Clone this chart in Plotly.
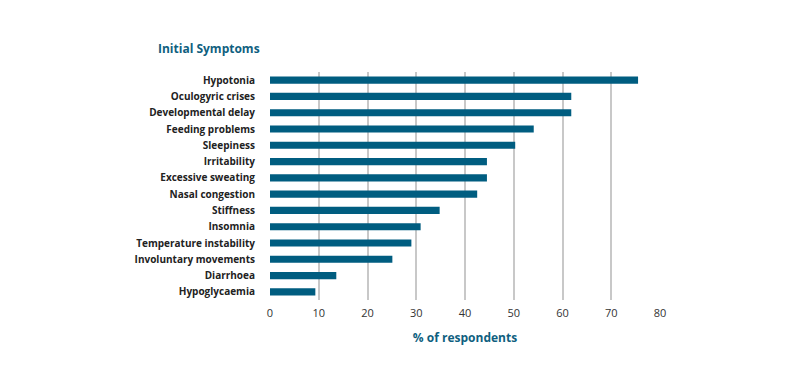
import plotly.graph_objects as go

symptoms = ["Hypotonia", "Oculogyric crises", "Developmental delay", "Feeding problems",
            "Sleepiness", "Irritability", "Excessive sweating", "Nasal congestion",
            "Stiffness", "Insomnia", "Temperature instability", "Involuntary movements",
            "Diarrhoea", "Hypoglycaemia"]
percent = [75.5, 61.8, 61.8, 54.1, 50.3, 44.5, 44.5, 42.5, 34.8, 30.9, 29.0, 25.1, 13.6, 9.3]
x_ticks = [0, 10, 20, 30, 40, 50, 60, 70, 80]

TEAL = "#005d80"

fig = go.Figure(go.Bar(
    x=percent, y=symptoms, orientation="h",
    marker=dict(color=TEAL, line=dict(width=0)),
    width=0.44,
))

fig.update_layout(
    width=800, height=380,
    margin=dict(l=262, r=148, t=64, b=88),
    paper_bgcolor="white", plot_bgcolor="white",
    showlegend=False,
    font=dict(family="Open Sans", color="#222222"),
    xaxis=dict(
        range=[0, 80], tickvals=x_ticks, showgrid=True, gridcolor="#c8c8c8", gridwidth=1.5,
        zeroline=False, showline=False,
        tickfont=dict(size=11, color="#333333"),
        ticks="outside", ticklen=3, tickcolor="rgba(0,0,0,0)",
        title=dict(text="% of respondents", font=dict(size=12, color="#0f5f80", weight=700), standoff=14),
    ),
    yaxis=dict(
        categoryorder="array", categoryarray=symptoms, autorange="reversed",
        showgrid=False, zeroline=False, showline=False,
        tickfont=dict(size=10, color="#222222", weight=700),
        ticks="outside", ticklen=12, tickcolor="rgba(0,0,0,0)",
    ),
    annotations=[dict(
        text="Initial Symptoms", xref="paper", yref="paper",
        x=-0.293, y=1.105, xanchor="left", yanchor="middle", showarrow=False,
        font=dict(size=12, color="#0f5f80", weight=700, family="Open Sans"),
    )],
)

fig.write_html("out.html")
